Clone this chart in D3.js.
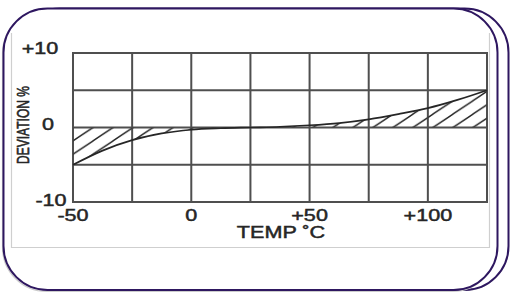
<!DOCTYPE html>
<html><head><meta charset="utf-8">
<script src="https://cdn.jsdelivr.net/npm/d3@7"></script>
<style>html,body{margin:0;padding:0;background:#fff;}svg{display:block;}</style>
</head><body>
<svg id="c" width="510" height="293"></svg>
<script>
// ---- data ----
const temps = [-50, -37.5, -25, -12.5, 0, 12.5, 25, 37.5, 50, 62.5, 75, 87.5, 100, 112.5, 125];
const deviation = [-5, -3.1, -1.7, -0.8, -0.3, -0.1, 0, 0.1, 0.3, 0.6, 1.1, 1.8, 2.6, 3.7, 5];
const xGrid = [-50, -25, 0, 25, 50, 75, 100, 125];
const yGrid = [-10, -5, 0, 5, 10];
const xTickVals = [-50, 0, 50, 100];
const xTickLabels = ["-50", "0", "+50", "+100"];
const yTickVals = [10, 0, -10];
const yTickLabels = ["+10", "0", "-10"];
const xTitle = "TEMP \u02DAC";
const yTitle = "DEVIATION %";

const svg = d3.select("#c");
const purple = "#2e1760";
const ink = "#262626";
const SX = 1.35; // horizontal stretch of the original artwork

// ---- frames ----
svg.append("rect").attr("x", 16.5).attr("y", 9.5).attr("width", 492).attr("height", 281)
  .attr("rx", 44).attr("fill", "none").attr("stroke", "#c4c4c4").attr("stroke-width", 1.2);
svg.append("rect").attr("x", 15.5).attr("y", 8.5).attr("width", 493).attr("height", 281.5)
  .attr("rx", 44).attr("fill", "#fff").attr("stroke", purple).attr("stroke-width", 2);
svg.append("rect").attr("x", 2.5).attr("y", 9.5).attr("width", 494).attr("height", 282)
  .attr("rx", 44).attr("fill", "none").attr("stroke", "#cccccc").attr("stroke-width", 1.2);
svg.append("rect").attr("x", 3.5).attr("y", 8.5).attr("width", 494).attr("height", 281.5)
  .attr("rx", 44).attr("fill", "#fff").attr("stroke", purple).attr("stroke-width", 2);

// image border (light gray, open top)
svg.append("path").attr("d", "M11.5,33 V247.5 H489.5 V33")
  .attr("fill", "none").attr("stroke", "#cfcfcf").attr("stroke-width", 1.2);

// ---- scales ----
const x = d3.scaleLinear().domain([-50, 125]).range([73, 487]);
const y = d3.scaleLinear().domain([-10, 10]).range([202, 53]);

// hatch pattern
const pw = 20, ph = 13.4;
const defs = svg.append("defs");
const pat = defs.append("pattern").attr("id", "hatch").attr("patternUnits", "userSpaceOnUse")
  .attr("x", x(-50)).attr("y", y(0) - ph).attr("width", pw).attr("height", ph);
pat.append("path")
  .attr("d", `M0,${ph} L${pw},0 M-2,${2*ph/pw} L2,${-2*ph/pw} M${pw-2},${ph+2*ph/pw} L${pw+2},${ph-2*ph/pw}`)
  .attr("stroke", ink).attr("stroke-width", 1.4).attr("fill", "none");

const pts = temps.map((t, i) => [t, deviation[i]]);

// hatched area between zero and curve
svg.append("path").datum(pts)
  .attr("d", d3.area().x(d => x(d[0])).y0(y(0)).y1(d => y(d[1])).curve(d3.curveMonotoneX))
  .attr("fill", "url(#hatch)");

// grid
const g = svg.append("g").attr("stroke", "#3c3c3c").attr("stroke-width", 2).attr("opacity", 0.9);
g.selectAll(".vx").data(xGrid).join("line")
  .attr("x1", d => x(d)).attr("x2", d => x(d)).attr("y1", y(10)).attr("y2", y(-10));
g.selectAll(".hy").data(yGrid).join("line")
  .attr("x1", x(-50) - 1).attr("x2", x(125) + 1).attr("y1", d => y(d)).attr("y2", d => y(d));

// curve
svg.append("path").datum(pts)
  .attr("d", d3.line().x(d => x(d[0])).y(d => y(d[1])).curve(d3.curveMonotoneX))
  .attr("fill", "none").attr("stroke", ink).attr("stroke-width", 1.7);

// ---- text ----
const font = "'Liberation Sans', Arial, sans-serif";
function label(txt, cx, cy, size, rot) {
  svg.append("text")
    .attr("transform", `translate(${cx},${cy}) scale(${SX},1)` + (rot ? ` rotate(${rot})` : ""))
    .attr("text-anchor", "middle").attr("dominant-baseline", "central")
    .attr("font-family", font).attr("font-size", size).attr("fill", ink)
    .attr("stroke", ink).attr("stroke-width", 0.45)
    .text(txt);
}
const yLabelX = [40, 48, 51];
yTickVals.forEach((v, i) => label(yTickLabels[i], yLabelX[i], y(v) - 4 + i * 1.5, 16));
xTickVals.forEach((v, i) => label(xTickLabels[i], x(v), 216, 16));
label(xTitle, 281, 233, 16);
label(yTitle, 23, 125, 12, -90);
</script>
</body></html>
